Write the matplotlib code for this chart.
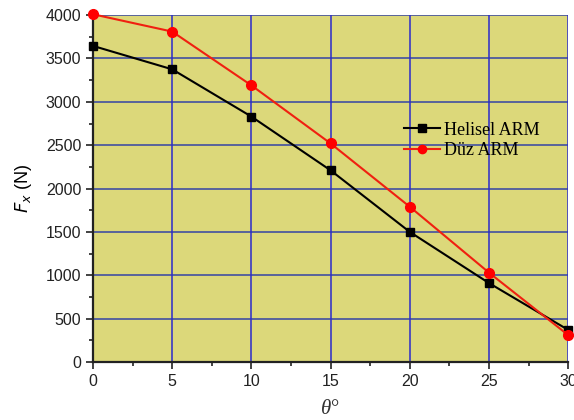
import matplotlib.pyplot as plt
from matplotlib.ticker import MultipleLocator

# Fx versus angle for the two arm types
theta = [0, 5, 10, 15, 20, 25, 30]
fx_helisel = [3645, 3375, 2830, 2210, 1500, 910, 370]
fx_duz = [4010, 3810, 3190, 2520, 1790, 1030, 310]

fig = plt.figure(figsize=(5.74, 4.2), dpi=100)
ax = fig.add_axes([0.162, 0.138, 0.828, 0.826])
ax.set_facecolor('#DCD87A')

ax.set_xlim(0, 30)
ax.set_ylim(0, 4000)
ax.xaxis.set_major_locator(MultipleLocator(5))
ax.xaxis.set_minor_locator(MultipleLocator(2.5))
ax.yaxis.set_major_locator(MultipleLocator(500))
ax.yaxis.set_minor_locator(MultipleLocator(250))

# grid: horizontal lines greyish blue, vertical lines blue
for y in range(500, 4001, 500):
    ax.axhline(y, color='#4E5A9E', lw=1.3, zorder=1)
for x in range(5, 31, 5):
    ax.axvline(x, color='#2B2BCC', lw=1.1, zorder=1)

ax.plot(theta, fx_helisel, color='black', lw=1.5, marker='s', ms=6,
        label='Helisel ARM', zorder=3, clip_on=False)
ax.plot(theta, fx_duz, color='#F02010', lw=1.5, marker='o', ms=7,
        mfc='red', mec='red', label='Düz ARM', zorder=3, clip_on=False)

for side in ('top', 'right'):
    ax.spines[side].set_visible(False)
for side in ('left', 'bottom'):
    ax.spines[side].set_linewidth(1.6)
    ax.spines[side].set_color('#222222')

ax.tick_params(which='major', direction='out', length=5, width=1.2,
               labelsize=11.5, colors='#222222', labelcolor='#222222')
ax.tick_params(which='minor', direction='out', length=3, width=1.2, colors='#222222')
for lab in ax.get_xticklabels() + ax.get_yticklabels():
    lab.set_family('Liberation Sans')

ax.set_ylabel(r'$F_x$ (N)', fontsize=13, family='Liberation Sans', labelpad=8)
ax.set_xlabel('θ°', fontsize=15, family='Liberation Serif', style='italic',
              labelpad=8, color='#333333')

leg = ax.legend(loc='upper left', bbox_to_anchor=(0.62, 0.74), frameon=False,
                prop={'family': 'Liberation Serif', 'size': 13},
                handlelength=2.0, handletextpad=0.2, labelspacing=0.2,
                markerscale=0.85)

fig.savefig('out.png', dpi=100)
